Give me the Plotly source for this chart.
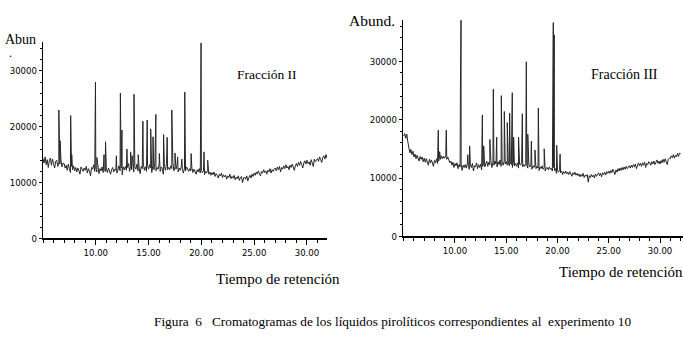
import numpy as np
import plotly.graph_objects as go

W, H = 683, 339

# ---------------- Fracción II ----------------
# baseline scans every 0.1 min (5.0 .. 32.0) and their abundances
t_base_II = np.round(np.arange(5.0, 32.001, 0.1), 1)
abund_base_II = [
    14300, 13500, 14600, 13200, 14100, 12700, 13900, 14400, 13100, 14200, 13400, 12600, 13800, 14000, 12900, 13600, 13300, 14100, 12800, 13500,  # 5.0-6.9
    13400, 12600, 13100, 12200, 13300, 12500, 11800, 12900, 12300, 13000, 12100, 12700, 11900, 12600, 12200, 11500, 12800, 12300, 12000, 12600,  # 7.0-8.9
    12200, 12900, 11700, 12500, 12100, 11200, 12700, 12400, 13200, 12000, 12600, 11900, 12400, 11600, 12500, 12100, 12800, 11800, 12300, 12000,  # 9.0-10.9
    12400, 11800, 12600, 12100, 11500, 12300, 12700, 11900, 12400, 12200, 11700, 12500, 13000, 12100, 12600, 11400, 12800, 12300, 12900, 12200,  # 11.0-12.9
    12700, 13400, 12000, 12900, 12300, 13600, 11900, 12800, 12400, 13300, 12100, 12700, 11600, 12900, 12500, 13500, 12200, 12800, 12000, 13100,  # 13.0-14.9
    12400, 13200, 12600, 11800, 13000, 12300, 13500, 12100, 12700, 12400, 13300, 12000, 12800, 12500, 11500, 12900, 12200, 13400, 12300, 12700,  # 15.0-16.9
    12300, 13000, 12500, 13600, 12100, 12800, 12400, 13200, 11900, 12600, 12200, 12900, 12400, 11700, 12600, 12100, 12800, 12300, 12000, 12500,  # 17.0-18.9
    12100, 12600, 11800, 12400, 12000, 11500, 12300, 11900, 12500, 11700, 12200, 11800, 12100, 11400, 12000, 11700, 12300, 11500, 11900, 11300,  # 19.0-20.9
    11800, 11400, 11900, 11100, 11600, 11300, 10800, 11500, 11200, 11700, 10900, 11400, 11000, 11300, 10600, 11200, 10900, 11500, 10700, 11100,  # 21.0-22.9
    10800, 11300, 10500, 11000, 10700, 11200, 10400, 10900, 11100, 10000, 10800, 11000, 10600, 11200, 10300, 10900, 11300, 10800, 11500, 11100,  # 23.0-24.9
    11700, 11300, 11900, 11500, 12100, 11600, 11200, 12000, 11700, 12300, 11800, 12100, 11500, 12200, 11900, 12500, 11700, 12300, 12000, 12400,  # 25.0-26.9
    12600, 12100, 12800, 12300, 12900, 11900, 12700, 12400, 13000, 12500, 13200, 12600, 12900, 12300, 13100, 12700, 13300, 12800, 12200, 13000,  # 27.0-28.9
    13400, 12900, 13600, 13100, 13800, 13200, 12600, 13500, 13900, 13300, 14000, 13400, 13700, 13100, 14100, 13500, 12900, 14200, 13700, 14000,  # 29.0-30.9
    14300, 13800, 14600, 14100, 13600, 14500, 14800, 14200, 15000, 14400, 14700,                                                                  # 31.0-32.0
]
peak_t_II = [6.50, 6.62, 7.62, 7.72, 9.97, 10.10, 10.78, 10.92, 11.95, 12.33,
             12.48, 12.95, 13.30, 13.45, 13.62, 14.02, 14.46, 14.87, 15.20, 15.42,
             15.69, 16.02, 16.42, 16.76, 17.20, 17.50, 17.75, 18.15, 18.43, 19.03,
             19.97, 20.25, 20.60]
peak_h_II = [23000, 17500, 22000, 15000, 28000, 14500, 15000, 17300, 14800, 26000,
             19400, 16000, 15500, 14800, 25800, 15000, 21000, 21200, 19600, 18200,
             22200, 15200, 18600, 18100, 23000, 15300, 14600, 14200, 26200, 15200,
             35000, 15500, 14000]

# ---------------- Fracción III ----------------
t_base_III = np.round(np.arange(5.0, 32.001, 0.1), 1)
abund_base_III = [
    17200, 17600, 16800, 17500, 16200, 15200, 14300, 14900, 14000, 14600, 13600, 14100, 13300, 13900, 13500, 12900, 13700, 13200, 13600, 12800,  # 5.0-6.9
    13400, 12700, 13300, 12900, 12200, 13200, 12600, 13100, 12400, 12000, 13000, 12600, 13300, 12500, 12900, 13600, 13200, 13800, 13300, 13700,  # 7.0-8.9
    13400, 13900, 13200, 13600, 13000, 12600, 12900, 12200, 12700, 11800, 12500, 12100, 12600, 11600, 12300, 11900, 12400, 11300, 12200, 11800,  # 9.0-10.9
    12300, 11700, 12400, 12000, 11500, 12200, 11800, 12500, 11200, 12100, 11900, 12600, 11600, 12300, 11800, 12400, 11400, 12000, 12500, 11900,  # 11.0-12.9
    12400, 12900, 12000, 12700, 12300, 13000, 11800, 12600, 12200, 12900, 12400, 11900, 12800, 12300, 13100, 12000, 12700, 12200, 12900, 12400,  # 13.0-14.9
    12800, 12200, 12900, 12100, 12600, 12300, 11800, 12700, 12100, 12500, 12000, 12600, 11700, 12400, 12200, 12700, 11900, 12300, 12000, 12500,  # 15.0-16.9
    12200, 11700, 12400, 11900, 12200, 11500, 12100, 11800, 12300, 11600, 12000, 11700, 11300, 11900, 11600, 12100, 11500, 11800, 11200, 11700,  # 17.0-18.9
    11800, 11400, 11900, 11500, 11700, 11200, 11800, 11300, 11600, 10800, 11300, 11000, 11400, 10900, 11200, 10600, 11100, 10800, 11200, 10700,  # 19.0-20.9
    11000, 10600, 11100, 10700, 10300, 10900, 10600, 11000, 10500, 10800, 10400, 10700, 10200, 10600, 10300, 10800, 10100, 10500, 10300, 10600,  # 21.0-22.9
    9300, 10400, 10100, 10600, 10200, 10500, 10000, 10700, 10300, 10600, 10900, 10400, 10800, 10200, 10900, 10600, 11000, 10500, 11100, 10800,   # 23.0-24.9
    11200, 10800, 11300, 10900, 11500, 11100, 10600, 11400, 11000, 11600, 11200, 11700, 11300, 11800, 11400, 11900, 11500, 12000, 11600, 11900,  # 25.0-26.9
    12100, 11700, 12200, 11800, 12300, 11900, 12400, 11600, 12200, 12600, 12100, 12500, 12000, 12600, 12200, 12700, 11800, 12500, 12300, 12800,  # 27.0-28.9
    12600, 12200, 12800, 12400, 12900, 12300, 12700, 13100, 12500, 12900, 12400, 13000, 12600, 13200, 12700, 13300, 12800, 12300, 13200, 13400,  # 29.0-30.9
    13300, 13800, 13500, 14000, 13400, 13900, 13600, 14200, 13700, 14300, 14100,                                                                  # 31.0-32.0
]
peak_t_III = [8.37, 8.50, 9.15, 10.53, 10.59, 11.25, 11.43, 12.67, 12.80, 13.40,
              13.74, 14.07, 14.52, 14.81, 15.10, 15.33, 15.59, 15.72, 16.20, 16.57,
              16.96, 17.10, 17.45, 17.80, 18.13, 18.70, 19.59, 19.68, 19.92, 20.25]
peak_h_III = [18200, 14500, 18200, 25000, 37000, 14000, 15500, 20800, 15500, 16600,
              25200, 17000, 24100, 21400, 19500, 21100, 24600, 17000, 17000, 21000,
              29900, 17500, 16300, 14800, 22000, 15000, 36600, 34500, 15600, 14100]

x_tick_vals = [10, 15, 20, 25, 30]
x_tick_text = ["10.00", "15.00", "20.00", "25.00", "30.00"]
y_tick_vals = [0, 10000, 20000, 30000]
y_tick_text = ["0", "10000", "20000", "30000"]


def merge(tb, yb, tp, yp):
    n = min(len(tb), len(yb))
    t = np.concatenate([np.asarray(tb[:n], float), np.asarray(tp, float)])
    y = np.concatenate([np.asarray(yb[:n], float), np.asarray(yp, float)])
    o = np.argsort(t, kind="stable")
    return t[o], y[o]


x2, y2 = merge(t_base_II, abund_base_II, peak_t_II, peak_h_II)
x3, y3 = merge(t_base_III, abund_base_III, peak_t_III, peak_h_III)

fig = go.Figure()
fig.add_trace(go.Scatter(x=x2, y=y2, mode="lines", xaxis="x", yaxis="y",
                         line=dict(color="#262626", width=1.0), hoverinfo="skip"))
fig.add_trace(go.Scatter(x=x3, y=y3, mode="lines", xaxis="x2", yaxis="y2",
                         line=dict(color="#262626", width=1.0), hoverinfo="skip"))

tickfont = dict(family="DejaVu Sans Condensed, Liberation Sans Narrow, Arial Narrow, sans-serif",
                size=9.5, color="black")


def xax(dom, rng, anchor):
    return dict(domain=dom, range=rng, anchor=anchor, showline=True, linecolor="black",
                linewidth=1.6, ticks="outside", ticklen=5, tickwidth=1, tickcolor="black",
                tickvals=x_tick_vals, ticktext=x_tick_text, tickfont=tickfont,
                minor=dict(dtick=1, tick0=0, ticks="outside", ticklen=3, tickcolor="black"),
                showgrid=False, zeroline=False, fixedrange=True)


def yax(dom, rng, anchor):
    return dict(domain=dom, range=rng, anchor=anchor, showline=True, linecolor="black",
                linewidth=1.2, ticks="outside", ticklen=3, tickwidth=1, tickcolor="black",
                tickvals=y_tick_vals, ticktext=y_tick_text, tickfont=tickfont,
                minor=dict(dtick=2000, tick0=0, ticks="outside", ticklen=2, tickcolor="black"),
                showgrid=False, zeroline=False, fixedrange=True)


fig.update_layout(
    width=W, height=H, margin=dict(l=0, r=0, t=0, b=0),
    paper_bgcolor="white", plot_bgcolor="white", showlegend=False,
    xaxis=xax([43 / W, 327 / W], [5.0, 31.9], "y"),
    yaxis=yax([(H - 242) / H, (H - 43) / H], [0, 35100], "x"),
    xaxis2=xax([403 / W, 1.0], [4.93, 32.24], "y2"),
    yaxis2=yax([(H - 240) / H, (H - 20) / H], [0, 37100], "x2"),
)

serif = "Liberation Serif, Times New Roman, serif"


def note(text, px, py, size=13, xanchor="left"):
    fig.add_annotation(text=text, x=px / W, y=1 - py / H, xref="paper", yref="paper",
                       showarrow=False, xanchor=xanchor, yanchor="middle",
                       font=dict(family=serif, size=size, color="black"))


note("Abun", 3, 40, 14)
note(".", 7, 54, 12)
note("Fracción II", 235, 76, 13.5)
note("Tiempo de retención", 342, 283, 15, "right")
note("Abund.", 347, 21, 15.5)
note("Fracción III", 589, 76, 14)
note("Tiempo de retención", 685, 276, 15, "right")
note("Figura  6   Cromatogramas de los líquidos pirolíticos correspondientes al  experimento 10",
     152, 326, 13.3)

fig.write_html(
    "out.html",
    config={"displayModeBar": False, "staticPlot": True},
    post_script="document.documentElement.style.margin='0';document.body.style.margin='0';"
                "document.body.style.overflow='hidden';",
)
